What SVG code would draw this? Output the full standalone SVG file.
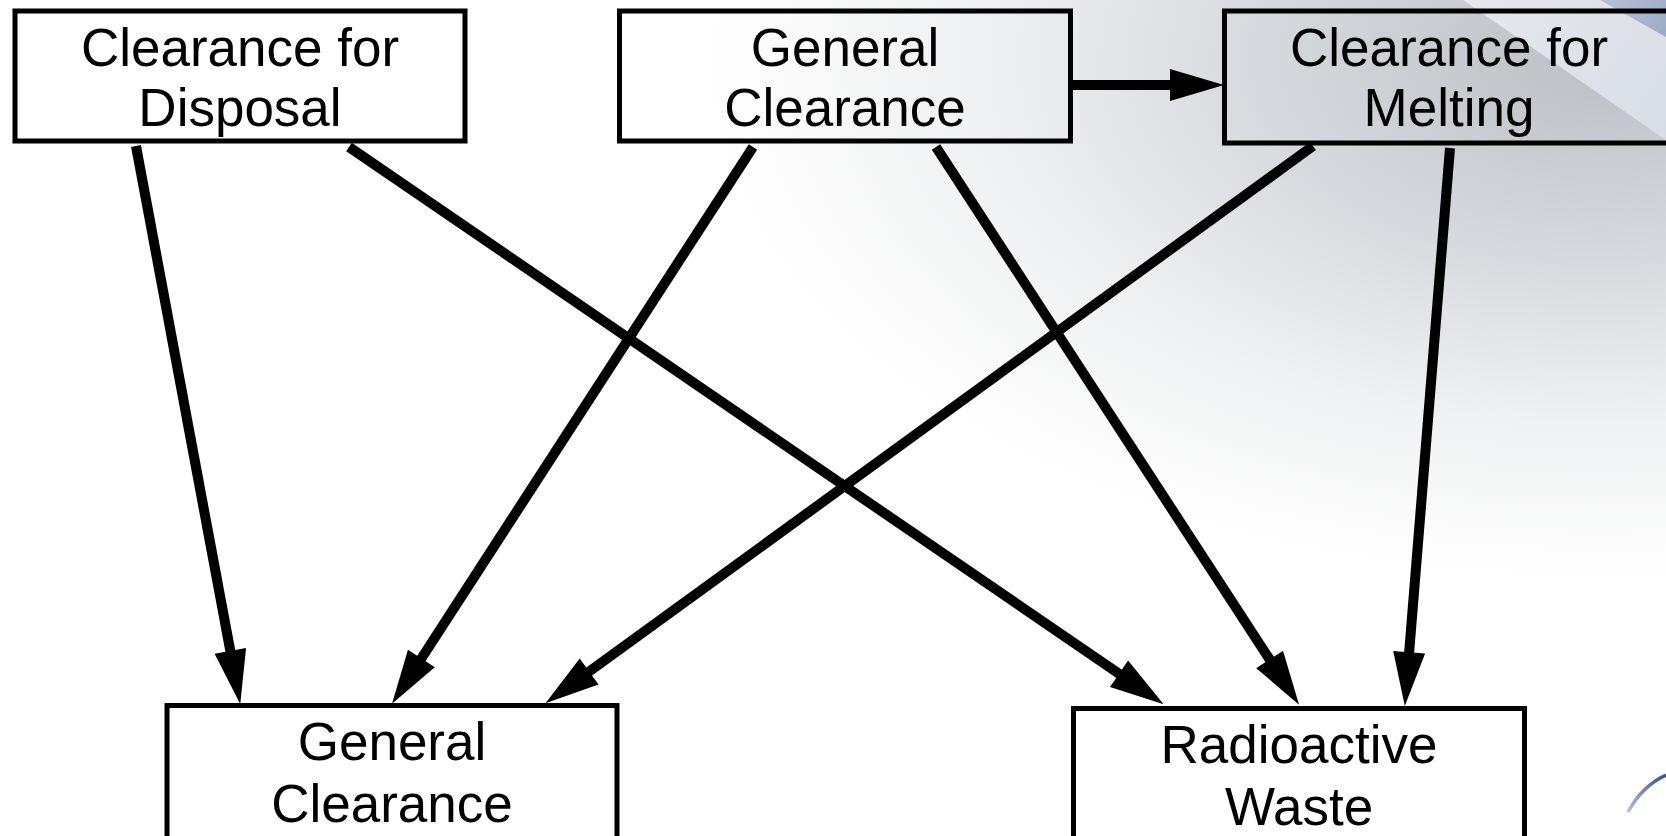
<svg xmlns="http://www.w3.org/2000/svg" width="1666" height="836" viewBox="0 0 1666 836">
<defs>
<radialGradient id="bg" gradientUnits="userSpaceOnUse" cx="1600" cy="60" r="900" gradientTransform="translate(1600 60) scale(1 0.58) translate(-1600 -60)">
<stop offset="0" stop-color="#bcc0c5"/>
<stop offset="0.35" stop-color="#d4d7db"/>
<stop offset="0.7" stop-color="#f0f1f2"/>
<stop offset="1" stop-color="#ffffff"/>
</radialGradient>
<linearGradient id="band" x1="1463" y1="0" x2="1666" y2="140" gradientUnits="userSpaceOnUse">
<stop offset="0" stop-color="#e6e8ec"/>
<stop offset="1" stop-color="#d8dce6"/>
</linearGradient>
<linearGradient id="blue" x1="1600" y1="0" x2="1666" y2="37" gradientUnits="userSpaceOnUse">
<stop offset="0" stop-color="#b8c2d6"/>
<stop offset="1" stop-color="#9eabc6"/>
</linearGradient>
<linearGradient id="arc" x1="1628" y1="812" x2="1666" y2="775" gradientUnits="userSpaceOnUse">
<stop offset="0" stop-color="#b8bfd0"/>
<stop offset="1" stop-color="#3d5088"/>
</linearGradient>
<marker id="ah" markerUnits="userSpaceOnUse" viewBox="0 -16 52 32" markerWidth="52" markerHeight="32" refX="0" refY="0" orient="auto" overflow="visible">
<path d="M-2,-16 L52,0 L-2,16 z" fill="#000"/>
</marker>
<style>
.box{fill:none;stroke:#000;stroke-width:5}
.lbl{font-family:"Liberation Sans",Arial,sans-serif;font-size:53px;fill:#000;text-anchor:middle}
.edge{stroke:#000;stroke-width:10;fill:none;marker-end:url(#ah)}
</style>
</defs>
<rect x="0" y="0" width="1666" height="836" fill="url(#bg)"/>
<polygon points="1463,0 1666,0 1666,140" fill="url(#band)"/>
<polygon points="1600,0 1666,0 1666,37" fill="url(#blue)"/>
<path d="M1628,812 Q1642,786 1666,775" stroke="url(#arc)" stroke-width="3.5" fill="none"/>
<g id="connectors">
<path class="edge" d="M136,146 L230.7,652.9"/>
<path class="edge" d="M349,147 L1120.7,674.8"/>
<path class="edge" d="M753,147 L420.3,660.1"/>
<path class="edge" d="M936,147 L1270.7,661.1"/>
<path class="edge" d="M1073,85 L1172,85"/>
<path class="edge" d="M1313,146 L587.5,672.7"/>
<path class="edge" d="M1450,148 L1409,654.2"/>
</g>
<g id="clearance-disposal">
<rect class="box" x="15" y="11" width="450" height="130"/>
<text class="lbl" x="240" y="66">Clearance for</text>
<text class="lbl" x="240" y="126">Disposal</text>
</g>
<g id="general-clearance-top">
<rect class="box" x="619.5" y="11" width="451" height="130"/>
<text class="lbl" x="845" y="66">General</text>
<text class="lbl" x="845" y="126">Clearance</text>
</g>
<g id="clearance-melting">
<rect class="box" x="1224.5" y="11" width="460" height="132"/>
<text class="lbl" x="1449" y="66">Clearance for</text>
<text class="lbl" x="1449" y="126">Melting</text>
</g>
<g id="general-clearance-bottom">
<rect class="box" x="167" y="705.5" width="450" height="200"/>
<text class="lbl" x="392" y="760">General</text>
<text class="lbl" x="392" y="822">Clearance</text>
</g>
<g id="radioactive-waste">
<rect class="box" x="1073.5" y="708.5" width="451" height="200"/>
<text class="lbl" x="1299" y="763">Radioactive</text>
<text class="lbl" x="1299" y="825">Waste</text>
</g>
</svg>
